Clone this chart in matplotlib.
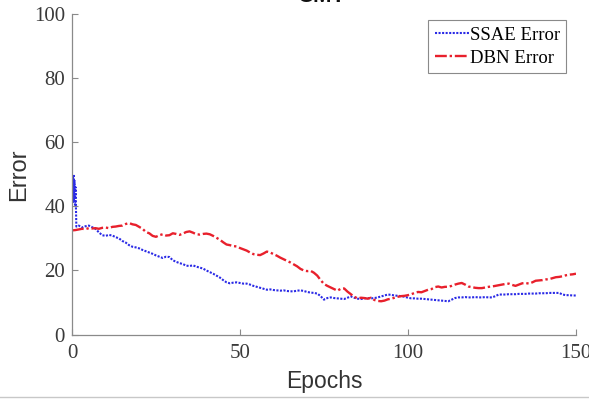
import matplotlib
matplotlib.use("Agg")
import matplotlib.pyplot as plt
from matplotlib.lines import Line2D

# SSAE: fast oscillating spike during first epoch, then per-epoch values
ssae_head_x = [0, 0.15, 0.3, 0.45, 0.6, 0.75, 0.9, 1.05, 1.3]
ssae_head_y = [44, 49.5, 41, 50, 42, 48, 40.5, 46, 33.7]
ssae_tail = [
    34.0, 33.4, 33.8, 34.0, 33.5, 33.0, 31.9, 31.0, 30.8,            # 2-10
    31.1, 30.9, 30.4, 30.0, 29.2, 28.7, 27.9, 27.4, 27.2, 26.9,      # 11-20
    26.4, 26.0, 25.6, 25.2, 24.7, 24.3, 23.9, 24.3, 24.2, 23.2,      # 21-30
    22.7, 22.3, 22.0, 21.5, 21.4, 21.6, 21.2, 20.9, 20.6, 20.0,      # 31-40
    19.5, 19.0, 18.4, 17.8, 17.0, 16.3, 16.0, 16.2, 16.3, 16.1,      # 41-50
    15.9, 15.9, 15.6, 15.2, 14.9, 14.6, 14.3, 14.0, 14.1, 13.9,      # 51-60
    13.8, 13.7, 13.8, 13.6, 13.5, 13.5, 13.7, 13.8, 13.6, 13.3,      # 61-70
    13.1, 13.0, 12.8, 12.0, 10.9, 11.4, 11.6, 11.4, 11.3, 11.2,      # 71-80
    11.1, 11.5, 11.9, 11.5, 11.2, 11.1, 11.3, 11.4, 11.3, 11.4,      # 81-90
    11.6, 11.9, 12.2, 12.5, 12.4, 12.2, 12.1, 12.0, 11.8, 11.5,      # 91-100
    11.3, 11.3, 11.2, 11.2, 11.1, 11.0, 10.9, 10.8, 10.7, 10.6,      # 101-110
    10.5, 10.4, 10.9, 11.4, 11.6, 11.6, 11.7, 11.6, 11.6, 11.7,      # 111-120
    11.6, 11.6, 11.7, 11.6, 11.6, 12.0, 12.5, 12.5, 12.5, 12.6,      # 121-130
    12.6, 12.6, 12.7, 12.7, 12.7, 12.8, 12.8, 12.8, 12.9, 12.9,      # 131-140
    12.9, 13.0, 13.0, 13.0, 13.0, 12.5, 12.3, 12.3, 12.2, 12.2,      # 141-150
]
dbn = [
    32.5, 32.6, 32.8, 33.0, 32.9, 33.2, 33.1, 33.2, 33.0, 33.3,      # 0-9
    33.4, 33.2, 33.6, 33.7, 33.9, 34.0, 34.5, 34.8, 34.4, 34.2,      # 10-19
    33.6, 33.0, 32.0, 31.6, 30.8, 30.5, 31.0, 31.3, 30.9, 31.0,      # 20-29
    31.6, 31.4, 31.1, 31.5, 32.0, 32.2, 31.8, 31.3, 31.2, 31.4,      # 30-39
    31.5, 31.3, 30.8, 30.2, 29.6, 28.8, 28.1, 27.9, 27.6, 27.5,      # 40-49
    27.0, 26.6, 26.2, 25.6, 25.1, 24.9, 24.8, 25.3, 25.9, 25.6,      # 50-59
    25.1, 24.6, 24.0, 23.5, 23.0, 22.5, 21.9, 21.3, 20.5, 20.0,      # 60-69
    19.8, 19.9, 19.3, 18.4, 17.0, 15.8, 15.2, 14.7, 14.2, 13.7,      # 70-79
    14.3, 14.4, 13.4, 12.6, 11.8, 11.3, 11.5, 11.4, 11.2, 11.5,      # 80-89
    10.8, 10.5, 10.4, 10.6, 11.0, 11.2, 11.5, 11.8, 12.0, 12.1,      # 90-99
    12.3, 12.6, 13.0, 13.3, 13.2, 13.6, 14.0, 14.2, 14.8, 15.0,      # 100-109
    14.7, 14.9, 14.9, 15.2, 15.6, 15.9, 16.1, 15.6, 15.0, 14.8,      # 110-119
    14.6, 14.5, 14.5, 14.7, 14.9, 15.0, 15.2, 15.4, 15.6, 15.8,      # 120-129
    15.9, 15.5, 15.2, 15.6, 16.0, 16.1, 15.9, 16.3, 16.8, 16.9,      # 130-139
    17.0, 17.2, 17.3, 17.6, 17.9, 18.0, 18.2, 18.5, 18.7, 18.8,      # 140-149
    19.0,                                                            # 150
]

ssae_x = ssae_head_x + list(range(2, 151))
ssae_y = ssae_head_y + ssae_tail
dbn_x = list(range(0, 151))

x_ticks = [0, 50, 100, 150]
y_ticks = [0, 20, 40, 60, 80, 100]

serif = "Liberation Serif"
sans = "Liberation Sans"

fig = plt.figure(figsize=(5.89, 4.0), dpi=100)
ax = fig.add_axes([0.1222, 0.1635, 0.8557, 0.8015])

ax.plot(ssae_x, ssae_y, color="#2a2ae6", linestyle=(0, (1, 0.7)), lw=1.5,
        label="SSAE Error")
ax.plot(dbn_x, dbn, color="#e8202c", linestyle=(0, (5, 1.2, 1, 1.2)), lw=1.7,
        label="DBN Error")

ax.set_xlim(0, 150)
ax.set_ylim(0, 100)
ax.set_xticks(x_ticks)
ax.set_yticks(y_ticks)
for s in ("top", "right"):
    ax.spines[s].set_visible(False)
for s in ("left", "bottom"):
    ax.spines[s].set_color("#8a8a8a")
    ax.spines[s].set_linewidth(0.9)
ax.tick_params(direction="in", length=4, width=0.8, color="#8a8a8a",
               labelsize=15, labelcolor="#3a3a3a")
ax.tick_params(axis="x", pad=7)
ax.tick_params(axis="y", pad=5)
for lab in ax.get_xticklabels() + ax.get_yticklabels():
    lab.set_family(serif)

ax.set_xlabel("Epochs", fontsize=16.5, family=sans, color="#333333", labelpad=5)
ax.set_ylabel("Error", fontsize=17, family=sans, color="#333333", labelpad=3)

leg = ax.legend(loc="upper right", bbox_to_anchor=(0.981, 0.981),
                prop={"family": serif, "size": 13.5}, handlelength=1.8,
                handletextpad=0.05, borderpad=0.35, labelspacing=0.3,
                borderaxespad=0, fancybox=False, framealpha=1)
leg.get_frame().set_edgecolor("#8a8a8a")
leg.get_frame().set_linewidth(0.8)

fig.text(0.545, 0.995, "CMT", ha="center", va="baseline", fontsize=16,
         fontweight="bold", family=sans, color="#111111")

fig.add_artist(Line2D([0, 1], [0.008, 0.008], transform=fig.transFigure,
                      color="#c8c8c8", lw=1))

fig.savefig("out.png", dpi=100)
